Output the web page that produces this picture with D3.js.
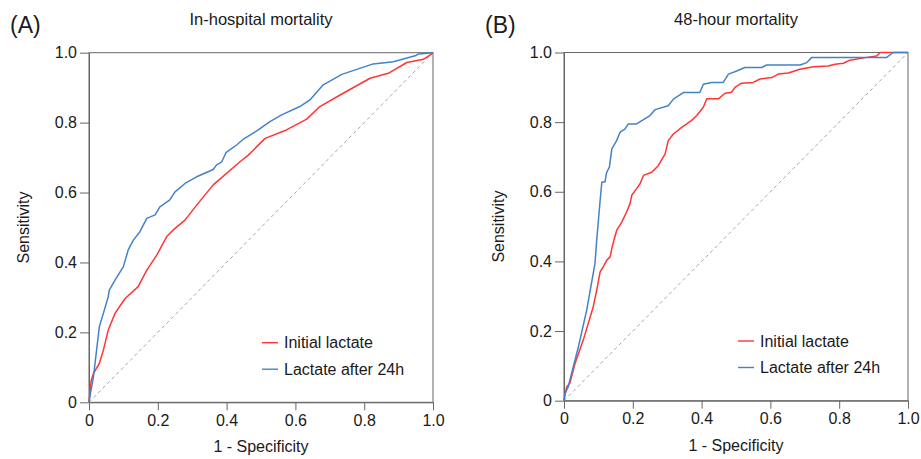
<!DOCTYPE html>
<html>
<head>
<meta charset="utf-8">
<script src="https://cdn.jsdelivr.net/npm/d3@7"></script>
<style>
  html, body { margin: 0; padding: 0; background: #fff; }
  svg { display: block; font-family: "Liberation Sans", Arial, Helvetica, sans-serif; }
</style>
</head>
<body>
<svg id="chart" width="921" height="459"></svg>
<script>
// ROC curve points (false positive rate = 1 - specificity, true positive rate = sensitivity)

// (A) In-hospital mortality
const hospInitialFpr = [0, .006, .013, .03, .042, .056, .076, .105, .143, .168, .197, .226, .245, .279, .313, .361, .439, .463, .512, .574, .633, .671, .73, .817, .87, .924, .972, .991, 1];
const hospInitialTpr = [0, .06, .083, .111, .15, .207, .255, .297, .331, .378, .421, .474, .493, .521, .564, .622, .688, .707, .755, .779, .81, .846, .879, .927, .941, .972, .981, .993, 1];

const hospAfter24Fpr = [0, .005, .013, .03, .042, .056, .059, .076, .1, .114, .129, .148, .168, .192, .206, .235, .25, .279, .313, .361, .371, .386, .398, .429, .449, .492, .526, .56, .613, .642, .681, .735, .826, .885, .948, .957, 1];
const hospAfter24Tpr = [0, .03, .073, .216, .255, .302, .321, .35, .388, .436, .464, .488, .526, .536, .559, .579, .602, .626, .645, .666, .679, .688, .714, .736, .753, .779, .803, .822, .846, .865, .908, .938, .968, .974, .991, .996, 1];

// (B) 48-hour mortality
const h48InitialFpr = [0, .003, .008, .017, .032, .056, .085, .095, .105, .114, .124, .134, .139, .145, .153, .168, .182, .192, .197, .211, .221, .231, .255, .274, .294, .303, .318, .342, .357, .371, .386, .405, .415, .449, .468, .487, .497, .516, .55, .57, .604, .623, .652, .686, .725, .768, .788, .812, .831, .88, .909, .919, 1];
const h48InitialTpr = [0, .017, .04, .05, .107, .174, .27, .317, .37, .384, .403, .413, .437, .46, .489, .513, .542, .566, .59, .609, .623, .647, .656, .675, .709, .747, .766, .785, .795, .805, .819, .843, .867, .867, .883, .886, .9, .912, .914, .924, .928, .938, .941, .952, .959, .961, .966, .969, .978, .986, .99, 1, 1];

const h48After24Fpr = [0, .003, .008, .0125, .017, .042, .066, .09, .095, .105, .11, .119, .124, .132, .139, .153, .163, .177, .187, .211, .231, .25, .265, .303, .318, .347, .395, .405, .429, .463, .478, .502, .526, .575, .589, .686, .706, .72, .938, .957, 1];
const h48After24Tpr = [0, .021, .031, .04, .059, .155, .26, .394, .46, .575, .628, .628, .656, .671, .723, .747, .771, .78, .795, .795, .807, .819, .836, .847, .866, .885, .885, .909, .914, .914, .938, .947, .957, .957, .964, .964, .971, .986, .986, 1, 1];

const seriesNames = ["Initial lactate", "Lactate after 24h"];
const seriesColors = ["#ff3535", "#4482c8"];
const tickValues = [0, 0.2, 0.4, 0.6, 0.8, 1.0];
const tickLabels = ["0", "0.2", "0.4", "0.6", "0.8", "1.0"];

const zip = (xs, ys) => xs.map((x, i) => ({ x, y: ys[i] }));

const panels = [
  {
    tag: "(A)", title: "In-hospital mortality",
    left: 89, top: 52.7, width: 344, height: 349.6,
    tagX: 10, legendX: 173, legendY: 290,
    series: [zip(hospInitialFpr, hospInitialTpr), zip(hospAfter24Fpr, hospAfter24Tpr)]
  },
  {
    tag: "(B)", title: "48-hour mortality",
    left: 564, top: 52.5, width: 344, height: 348.2,
    tagX: 485, legendX: 174, legendY: 288.5,
    series: [zip(h48InitialFpr, h48InitialTpr), zip(h48After24Fpr, h48After24Tpr)]
  }
];

const svg = d3.select("#chart");
const textColor = "#1a1a1a";
const axisColor = "#666";

panels.forEach(p => {
  const x = d3.scaleLinear().domain([0, 1]).range([0, p.width]);
  const y = d3.scaleLinear().domain([0, 1]).range([p.height, 0]);
  const g = svg.append("g").attr("transform", `translate(${p.left},${p.top})`);

  // panel tag and title
  svg.append("text").attr("x", p.tagX).attr("y", 33)
    .attr("font-size", 23).attr("fill", textColor).text(p.tag);
  svg.append("text").attr("x", p.left + p.width / 2).attr("y", 25)
    .attr("text-anchor", "middle").attr("font-size", 16.5).attr("fill", textColor).text(p.title);

  // frame
  g.append("rect").attr("x", 0).attr("y", 0).attr("width", p.width).attr("height", p.height)
    .attr("fill", "none").attr("stroke", axisColor).attr("stroke-width", 1);

  // axes
  const fmt = d => tickLabels[tickValues.indexOf(d)];
  const xAxis = g.append("g").attr("transform", `translate(0,${p.height})`)
    .call(d3.axisBottom(x).tickValues(tickValues).tickFormat(fmt).tickSize(8).tickSizeOuter(0).tickPadding(4));
  const yAxis = g.append("g")
    .call(d3.axisLeft(y).tickValues(tickValues).tickFormat(fmt).tickSize(9).tickSizeOuter(0).tickPadding(3));
  [xAxis, yAxis].forEach(a => {
    a.select(".domain").attr("stroke", axisColor);
    a.selectAll(".tick line").attr("stroke", axisColor);
    a.selectAll(".tick text").attr("fill", textColor).attr("font-size", 16)
      .attr("font-family", "'Liberation Sans', Arial, sans-serif");
  });

  // axis titles
  g.append("text").attr("x", p.width / 2).attr("y", p.height + 50)
    .attr("text-anchor", "middle").attr("font-size", 16).attr("fill", textColor).text("1 - Specificity");
  g.append("text").attr("transform", `translate(-60,${p.height / 2}) rotate(-90)`)
    .attr("text-anchor", "middle").attr("font-size", 16).attr("fill", textColor).text("Sensitivity");

  // reference diagonal
  g.append("line").attr("x1", x(0)).attr("y1", y(0)).attr("x2", x(1)).attr("y2", y(1))
    .attr("stroke", "#a8a8a8").attr("stroke-width", 1).attr("stroke-dasharray", "3.5,3");

  // ROC curves
  const line = d3.line().x(d => x(d.x)).y(d => y(d.y));
  p.series.forEach((s, i) => {
    g.append("path").datum(s).attr("d", line)
      .attr("fill", "none").attr("stroke", seriesColors[i]).attr("stroke-width", 1.5)
      .attr("stroke-linejoin", "round");
  });

  // legend
  const lg = g.append("g").attr("transform", `translate(${p.legendX},${p.legendY})`);
  seriesNames.forEach((name, i) => {
    const yy = i * 26.5;
    lg.append("line").attr("x1", 0).attr("x2", 16).attr("y1", yy).attr("y2", yy)
      .attr("stroke", seriesColors[i]).attr("stroke-width", 1.4);
    lg.append("text").attr("x", 22).attr("y", yy).attr("dy", "0.35em")
      .attr("font-size", 16).attr("fill", textColor).text(name);
  });
});
</script>
</body>
</html>
